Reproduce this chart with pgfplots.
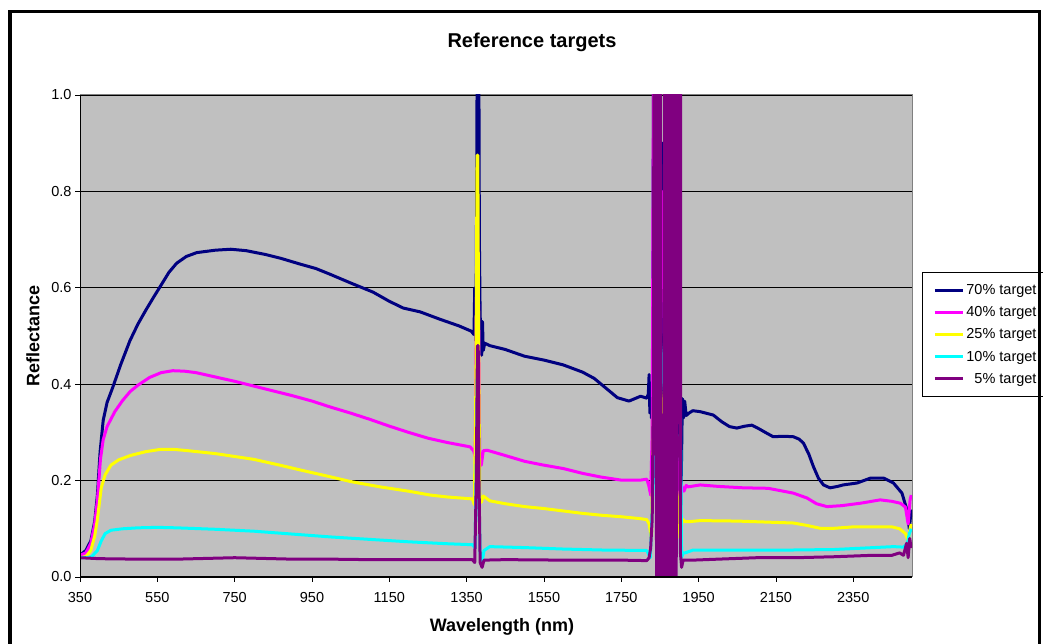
\documentclass[border=0pt]{standalone}
\usepackage{fontspec}
\setmainfont{Liberation Sans}
\usepackage{pgfplots}
\pgfplotsset{compat=1.18}
\definecolor{bgray}{HTML}{C0C0C0}
\definecolor{navyc}{HTML}{000080}
\definecolor{magc}{HTML}{FF00FF}
\definecolor{yelc}{HTML}{FFFF00}
\definecolor{cyac}{HTML}{00FFFF}
\definecolor{purc}{HTML}{800080}
\begin{document}
\begin{tikzpicture}[x=1pt,y=1pt]
\useasboundingbox (0,0) rectangle (1043,644);
\node[font=\fontsize{20}{24}\selectfont\bfseries] at (532,602) {Reference targets};
\node[font=\fontsize{18}{22}\selectfont\bfseries] at (502,17) {Wavelength (nm)};
\node[font=\fontsize{18}{22}\selectfont\bfseries, rotate=90] at (33,308) {Reflectance};
\begin{axis}[
  at={(80pt,67pt)}, anchor=south west,
  scale only axis, width=832pt, height=482pt,
  xmin=350, xmax=2502, ymin=0, ymax=1,
  xtick={350,550,750,950,1150,1350,1550,1750,1950,2150,2350},
  ytick={0,0.2,0.4,0.6,0.8,1},
  /pgf/number format/1000 sep={},
  /pgf/number format/assume math mode=true,
  yticklabel style={/pgf/number format/.cd, fixed, fixed zerofill, precision=1},
  xticklabel style={yshift=-7pt},
  tick label style={font=\fontsize{14.5}{16}\selectfont},
  tick align=outside, major tick length=5pt,
  tick style={black, line width=0.8pt},
  xtick pos=bottom, ytick pos=left,
  axis background/.style={fill=bgray},
  ymajorgrids, major grid style={black, line width=0.8pt},
  axis line style={draw=gray, line width=1pt},
  clip mode=individual,
  every axis plot/.append style={line width=3pt, line join=round},
  legend style={at={(1.012,0.633)}, anchor=north west, draw=black, line width=0.8pt,
    font=\fontsize{14.5}{16}\selectfont, row sep=6.6pt, inner xsep=11pt, inner ysep=10pt},
  legend cell align=right,
  legend image code/.code={\draw[#1, line width=3pt] (0pt,0pt) -- (28pt,0pt);},
]
\addplot[navyc] table {
350 0.045
365 0.055
378 0.075
388 0.115
395 0.17
402 0.26
410 0.325
420 0.362
435 0.394
455 0.440
479 0.490
500 0.525
522 0.556
540 0.580
557 0.602
580 0.632
600 0.651
625 0.665
652 0.673
700 0.678
740 0.680
780 0.677
830 0.669
870 0.661
920 0.649
960 0.640
997 0.628
1050 0.610
1108 0.591
1150 0.572
1186 0.558
1230 0.550
1280 0.535
1330 0.521
1362 0.510
1369 0.503
1371 0.60
1373 0.53
1374 0.49
1376 0.80
1378 1.25
1381 1.25
1383 0.70
1385 0.54
1387 0.52
1389 0.46
1391 0.53
1393 0.47
1397 0.485
1410 0.480
1450 0.472
1500 0.458
1550 0.450
1600 0.440
1650 0.425
1680 0.412
1710 0.392
1740 0.372
1770 0.365
1800 0.375
1816 0.371
1820 0.38
1822 0.42
1824 0.34
1826 0.40
1828 0.33
1831 0.36
1834 1.25
1838 0.2
1845 1.25
1850 0.3
1856 0.9
1858 0.4
1864 0.2
1868 0.58
1869 0.30
1878 0.2
1888 0.15
1895 0.58
1897 0.30
1900 0.43
1903 0.11
1906 0.25
1908 0.37
1911 0.33
1914 0.365
1918 0.335
1925 0.34
1935 0.345
1954 0.343
1988 0.336
2010 0.322
2030 0.312
2049 0.309
2070 0.313
2088 0.315
2105 0.308
2127 0.298
2143 0.291
2170 0.292
2195 0.291
2210 0.286
2221 0.278
2235 0.255
2247 0.229
2260 0.205
2273 0.191
2290 0.185
2310 0.188
2324 0.191
2360 0.195
2394 0.205
2429 0.205
2454 0.195
2476 0.174
2489 0.139
2495 0.10
2500 0.14
};
\addplot[magc] table {
350 0.045
365 0.05
378 0.07
388 0.11
395 0.16
403 0.245
410 0.285
420 0.312
440 0.343
460 0.366
480 0.385
500 0.398
530 0.414
560 0.424
590 0.428
620 0.427
650 0.424
700 0.415
750 0.406
800 0.396
850 0.386
900 0.376
950 0.365
1000 0.352
1050 0.340
1100 0.327
1150 0.313
1200 0.300
1250 0.288
1300 0.279
1359 0.270
1368 0.262
1372 0.25
1375 0.55
1378 0.72
1381 0.55
1384 0.24
1388 0.232
1393 0.262
1403 0.263
1450 0.252
1500 0.240
1550 0.232
1600 0.225
1650 0.215
1700 0.207
1750 0.201
1800 0.201
1816 0.203
1821 0.19
1826 0.17
1830 0.30
1834 1.2
1845 1.2
1852 0.5
1858 0.8
1866 0.4
1880 0.5
1890 0.3
1898 0.2
1902 0.16
1906 0.19
1912 0.178
1918 0.19
1923 0.187
1954 0.191
2000 0.188
2066 0.185
2130 0.184
2195 0.174
2230 0.164
2255 0.152
2282 0.146
2320 0.148
2368 0.153
2420 0.160
2450 0.157
2472 0.153
2485 0.145
2492 0.11
2497 0.16
2500 0.17
};
\addplot[yelc] table {
350 0.04
365 0.042
378 0.055
388 0.085
395 0.12
405 0.185
415 0.212
430 0.232
450 0.243
480 0.252
520 0.260
560 0.265
590 0.265
630 0.262
700 0.256
750 0.250
800 0.244
867 0.232
920 0.222
997 0.208
1050 0.198
1126 0.187
1200 0.178
1256 0.170
1300 0.166
1365 0.162
1370 0.15
1374 0.40
1377 0.875
1379 0.875
1381 0.50
1384 0.17
1388 0.155
1393 0.168
1410 0.158
1450 0.152
1500 0.146
1550 0.142
1600 0.137
1650 0.132
1700 0.128
1750 0.125
1800 0.121
1816 0.119
1822 0.11
1828 0.08
1833 0.30
1840 1.2
1850 0.4
1860 0.3
1866 0.67
1868 0.6
1872 0.3
1880 0.35
1890 0.2
1896 0.16
1902 0.08
1908 0.12
1915 0.115
1928 0.115
1954 0.117
2050 0.116
2195 0.112
2230 0.107
2265 0.101
2300 0.101
2350 0.104
2450 0.104
2470 0.100
2485 0.09
2492 0.075
2497 0.10
2500 0.11
};
\addplot[cyac] table {
350 0.04
365 0.04
380 0.042
395 0.055
405 0.075
415 0.09
430 0.097
460 0.100
500 0.102
550 0.103
600 0.102
700 0.099
800 0.095
900 0.089
1000 0.083
1100 0.078
1200 0.073
1300 0.069
1365 0.067
1372 0.06
1376 0.30
1378 0.45
1381 0.20
1385 0.05
1390 0.03
1395 0.055
1410 0.063
1500 0.061
1600 0.058
1700 0.056
1816 0.055
1825 0.04
1833 0.2
1840 1.2
1850 0.5
1870 0.3
1890 0.25
1900 0.5
1903 0.35
1906 0.04
1910 0.05
1915 0.05
1936 0.056
2100 0.056
2195 0.056
2300 0.057
2454 0.063
2480 0.062
2490 0.07
2495 0.09
2500 0.10
};
\addplot[purc] table {
350 0.040
400 0.038
500 0.037
600 0.037
700 0.039
750 0.040
800 0.039
900 0.037
1000 0.037
1100 0.036
1200 0.036
1300 0.036
1365 0.036
1371 0.030
1375 0.20
1378 0.48
1380 0.48
1382 0.20
1385 0.03
1390 0.02
1395 0.035
1450 0.036
1600 0.035
1750 0.035
1816 0.034
1822 0.04
1826 0.06
1830 0.12
1833 0.40
1835 1.3
1843 -0.3
1837 1.3
1844 -0.3
1839 1.3
1846 -0.3
1841 1.3
1847 -0.3
1843 1.3
1849 -0.3
1845 1.3
1850 -0.3
1847 1.3
1852 -0.3
1849 1.3
1853 -0.3
1851 1.3
1855 -0.3
1862 -0.3
1862 1.3
1870 -0.3
1864 1.3
1871 -0.3
1866 1.3
1872 -0.3
1868 1.3
1873 -0.3
1870 1.3
1874 -0.3
1872 1.3
1875 -0.3
1874 1.3
1876 -0.3
1876 1.3
1877 -0.3
1878 1.3
1878 -0.3
1880 1.3
1879 -0.3
1882 1.3
1880 -0.3
1884 1.3
1881 -0.3
1886 1.3
1882 -0.3
1888 1.3
1883 -0.3
1890 1.3
1884 -0.3
1892 1.3
1885 -0.3
1894 1.3
1886 -0.3
1896 1.3
1887 -0.3
1898 1.3
1888 -0.3
1900 1.3
1889 -0.3
1902 1.3
1889 -0.3
1904 1.3
1903 0.05
1906 0.02
1910 0.035
1920 0.035
1936 0.035
2000 0.037
2100 0.040
2200 0.040
2300 0.042
2400 0.045
2450 0.045
2470 0.050
2480 0.045
2488 0.070
2492 0.040
2496 0.080
2500 0.060
};
\legend{70\% target, 40\% target, 25\% target, 10\% target, 5\% target}
\draw[black, line width=1pt] (rel axis cs:0,1) -- (rel axis cs:0,0) -- (rel axis cs:1,0);
\end{axis}
\draw[line width=3.3pt] (10,-20) rectangle (1039.5,632.5);
\end{tikzpicture}
\end{document}
